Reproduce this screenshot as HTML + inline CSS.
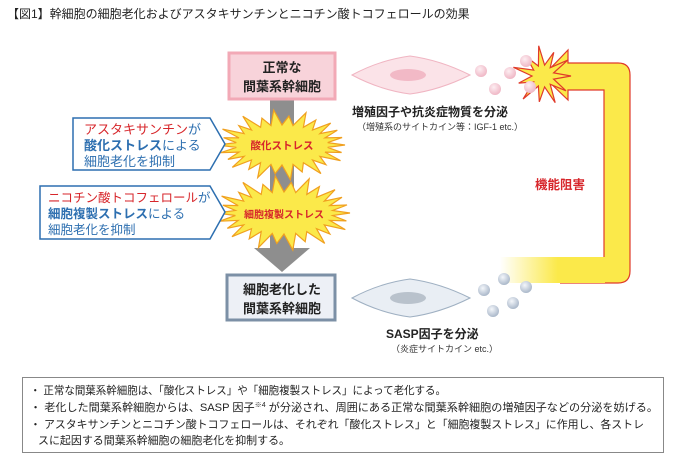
<!DOCTYPE html>
<html><head><meta charset="utf-8">
<style>
body{margin:0;background:#fff;width:680px;height:456px;overflow:hidden}
svg{display:block}
text{font-family:"Liberation Sans","Noto Sans CJK JP",sans-serif}
</style></head><body>
<svg id="s" width="680" height="456" viewBox="0 0 680 456" xmlns="http://www.w3.org/2000/svg">
<defs>
<linearGradient id="fade" x1="0" x2="1" y1="0" y2="0">
<stop offset="0" stop-color="#fff" stop-opacity="1"/>
<stop offset="0.55" stop-color="#fbe94a"/>
<stop offset="1" stop-color="#fbe94a"/>
</linearGradient>
<linearGradient id="fadeStroke" x1="0" x2="1"><stop offset="0" stop-color="#e33" stop-opacity="0"/><stop offset="0.6" stop-color="#e33"/></linearGradient>
<radialGradient id="pd" cx="0.4" cy="0.35" r="0.7"><stop offset="0" stop-color="#fdeef2"/><stop offset="1" stop-color="#eeb3c2"/></radialGradient>
<radialGradient id="bd" cx="0.4" cy="0.35" r="0.7"><stop offset="0" stop-color="#f4f7fb"/><stop offset="1" stop-color="#a5b3c6"/></radialGradient>
</defs>
<text x="7" y="18" font-size="12" fill="#222">【図1】幹細胞の細胞老化およびアスタキサンチンとニコチン酸トコフェロールの効果</text>

<rect x="270" y="99" width="24" height="150" fill="#8e8e8e"/>
<polygon points="254,248 310,248 282,272" fill="#8e8e8e"/>

<rect x="229" y="53" width="106" height="46" fill="#f8d3da" stroke="#f2a9b6" stroke-width="3"/>
<text x="282" y="72" font-size="13" font-weight="bold" text-anchor="middle" fill="#222">正常な</text>
<text x="282" y="91" font-size="13" font-weight="bold" text-anchor="middle" fill="#222">間葉系幹細胞</text>

<g id="stars"></g>
<text x="282" y="149" font-size="10.5" font-weight="bold" text-anchor="middle" fill="#d7262b">酸化ストレス</text>
<text x="284" y="218" font-size="10" font-weight="bold" text-anchor="middle" fill="#d7262b">細胞複製ストレス</text>

<polygon points="73,118 210,118 225,144 210,170 73,170" fill="#fff" stroke="#2d6fb0" stroke-width="1.5"/>
<text x="84" y="134" font-size="13" fill="#d7262b">アスタキサンチン<tspan fill="#2d6fb0">が</tspan></text>
<text x="84" y="150" font-size="13" fill="#2d6fb0"><tspan font-weight="bold">酸化ストレス</tspan>による</text>
<text x="84" y="166" font-size="13" fill="#2d6fb0">細胞老化を抑制</text>
<polygon points="40,186 210,186 225,212 210,239 40,239" fill="#fff" stroke="#2d6fb0" stroke-width="1.5"/>
<text x="48" y="202" font-size="12.5" fill="#d7262b">ニコチン酸トコフェロール<tspan fill="#2d6fb0">が</tspan></text>
<text x="48" y="218" font-size="12.5" fill="#2d6fb0"><tspan font-weight="bold">細胞複製ストレス</tspan>による</text>
<text x="48" y="234" font-size="12.5" fill="#2d6fb0">細胞老化を抑制</text>

<rect x="227" y="275" width="108" height="45" fill="#edf0f6" stroke="#7c90a6" stroke-width="3"/>
<text x="282" y="294" font-size="13" font-weight="bold" text-anchor="middle" fill="#222">細胞老化した</text>
<text x="282" y="313" font-size="13" font-weight="bold" text-anchor="middle" fill="#222">間葉系幹細胞</text>

<path d="M520,257 L604,257 L604,90 L568,90 L568,100 L543,76 L568,50 L568,63 L618,63 Q630,63 630,75 L630,271 Q630,283 618,283 L520,283 Z" fill="#fbe94a"/>
<path d="M604,257 L604,90 L568,90 L568,100 L543,76 L568,50 L568,63 L618,63 Q630,63 630,75 L630,271 Q630,283 618,283 L560,283" fill="none" stroke="#e03a2a" stroke-width="1.2"/>
<rect x="500" y="257" width="105" height="26" fill="url(#fade)"/>
<line x1="520" y1="257" x2="604" y2="257" stroke="url(#fadeStroke)" stroke-width="1.2"/>
<line x1="520" y1="283" x2="618" y2="283" stroke="url(#fadeStroke)" stroke-width="1.2"/>
<text x="535" y="189" font-size="12.5" font-weight="bold" fill="#d7262b">機能阻害</text>

<path d="M352,75 Q380,60 410,56 Q440,60 470,75 Q440,90 410,94 Q380,90 352,75 Z" fill="#fbe3e8" stroke="#f0b5c2" stroke-width="1"/>
<ellipse cx="408" cy="75" rx="18" ry="6" fill="#f2b9c6"/>
<g id="pstar"></g>
<circle cx="481" cy="71" r="6" fill="url(#pd)"/>
<circle cx="495" cy="89" r="6" fill="url(#pd)"/>
<circle cx="510" cy="73" r="6" fill="url(#pd)"/>
<circle cx="526" cy="61" r="6" fill="url(#pd)"/>
<circle cx="530" cy="87" r="6" fill="url(#pd)"/>
<text x="352" y="116" font-size="12" font-weight="bold" fill="#222">増殖因子や抗炎症物質を分泌</text>
<text x="357" y="130" font-size="9" fill="#333">（増殖系のサイトカイン等：IGF-1 etc.）</text>

<path d="M352,298 Q380,283 410,279 Q440,283 470,298 Q440,313 410,317 Q380,313 352,298 Z" fill="#e9eef4" stroke="#9fb0c2" stroke-width="1"/>
<ellipse cx="408" cy="298" rx="18" ry="6" fill="#b9c2cc"/>
<circle cx="504" cy="279" r="6" fill="url(#bd)"/>
<circle cx="484" cy="290" r="6" fill="url(#bd)"/>
<circle cx="526" cy="287" r="6" fill="url(#bd)"/>
<circle cx="513" cy="303" r="6" fill="url(#bd)"/>
<circle cx="493" cy="311" r="6" fill="url(#bd)"/>
<text x="386" y="338" font-size="12" font-weight="bold" fill="#222">SASP因子を分泌</text>
<text x="391" y="352" font-size="9" fill="#333">（炎症サイトカイン etc.）</text>

<rect x="22.5" y="377.5" width="641" height="75" fill="#fff" stroke="#888" stroke-width="1"/>
<g font-size="11" fill="#222">
<text x="30" y="394" textLength="416" lengthAdjust="spacingAndGlyphs">・ 正常な間葉系幹細胞は、「酸化ストレス」や「細胞複製ストレス」によって老化する。</text>
<text x="30" y="411" textLength="628" lengthAdjust="spacingAndGlyphs">・ 老化した間葉系幹細胞からは、SASP 因子<tspan font-size="7" dy="-4">※4</tspan><tspan dy="4"> が分泌され、周囲にある正常な間葉系幹細胞の増殖因子などの分泌を妨げる。</tspan></text>
<text x="30" y="428" textLength="614" lengthAdjust="spacingAndGlyphs">・ アスタキサンチンとニコチン酸トコフェロールは、それぞれ「酸化ストレス」と「細胞複製ストレス」に作用し、各ストレ</text>
<text x="38" y="444" textLength="252" lengthAdjust="spacingAndGlyphs">スに起因する間葉系幹細胞の細胞老化を抑制する。</text>
</g>
</svg>
<script>
function star(cx,cy,rx,ry,irx,iry,n,fill,stroke){
 var p=[];for(var i=0;i<n*2;i++){var a=Math.PI*i/n;var o=i%2==0;var k=o?(1+0.1*Math.sin(i*1.7)):1;var x=cx+Math.cos(a)*(o?rx:irx)*k,y=cy+Math.sin(a)*(o?ry:iry)*k;p.push(x.toFixed(1)+","+y.toFixed(1));}
 return '<polygon points="'+p.join(" ")+'" fill="'+fill+'" stroke="'+stroke+'" stroke-width="1.2"/>';
}
document.getElementById("stars").innerHTML=star(282,145,63,32,46,20,26,"#fbe94a","#f0a020")+star(284,213,66,34,49,21,26,"#fbe94a","#f0a020");
document.getElementById("pstar").innerHTML=star(543,76,28,28,11,11,11,"#fbe94a","#e03a2a");
</script>
</body></html>
